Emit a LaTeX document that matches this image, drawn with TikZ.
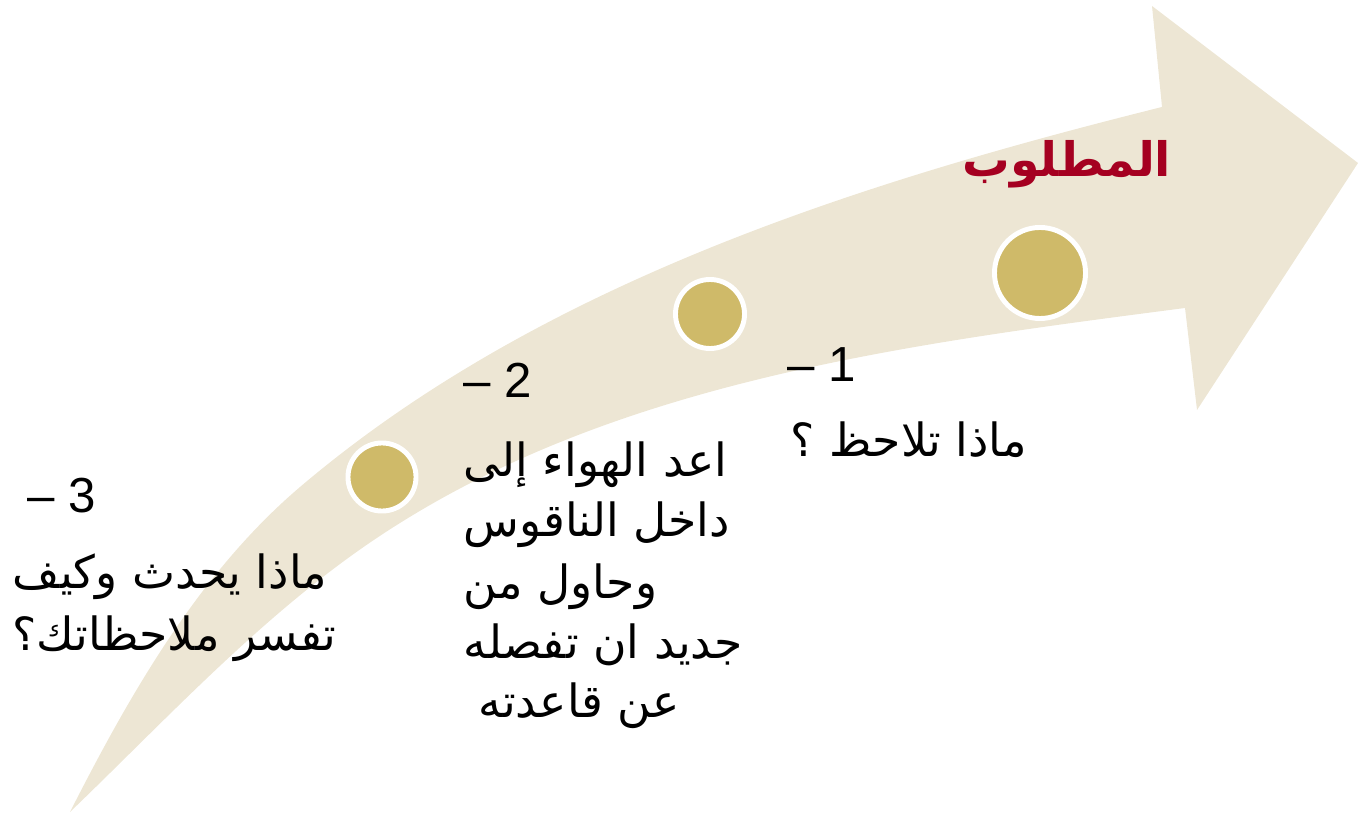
\documentclass[tikz,border=0pt]{standalone}
\usepackage{fontspec}
\setmainfont{Liberation Sans}
\newfontfamily\arabicfont[Script=Arabic]{DejaVu Sans}
\TeXXeTstate=1
\definecolor{bandbeige}{HTML}{EDE6D4}
\definecolor{dotgold}{HTML}{CFBA69}
\definecolor{titlered}{HTML}{A50021}
\begin{document}
\begin{tikzpicture}[x=0.01cm,y=-0.01cm,
  dot/.style={circle,fill=dotgold,draw=white,line width=1.4pt,inner sep=0pt},
  numtxt/.style={anchor=base west,inner sep=0pt,font=\fontsize{14}{17}\selectfont},
  artxt/.style={anchor=base west,inner sep=0pt,font=\arabicfont\fontsize{13}{17}\selectfont},
  titletxt/.style={anchor=base east,inner sep=0pt,text=titlered,font=\arabicfont\bfseries\fontsize{13.5}{17}\selectfont}]
\useasboundingbox (0,0) rectangle (1358,813);
% curved arrow band
\fill[bandbeige] (70,812)
  .. controls (130,694) and (199,573) .. (300,487)
  .. controls (539,284) and (857,183) .. (1162,107)
  -- (1152,6) -- (1358,163) -- (1197,410) -- (1185,308)
  .. controls (916,343) and (630,379) .. (400,523)
  .. controls (276,600) and (175,711) .. (70,812)
  -- cycle;
% dots
\node[dot,minimum size=0.68cm] (d3) at (382,477) {};
\node[dot,minimum size=0.69cm] (d2) at (710,314) {};
\node[dot,minimum size=0.91cm] (d1) at (1040,273) {};
% title
\node[titletxt] (title) at (1172,177) {\beginR المطلوب\endR};
% item 1
\node[numtxt] (n1) at (787,382) {– 1};
\node[artxt] (t1a) at (790,457) {\beginR ماذا تلاحظ ؟\endR};
% item 2
\node[numtxt] (n2) at (463,398) {– 2};
\node[artxt] (t2a) at (463,477) {\beginR اعد الهواء إلى\endR};
\node[artxt] (t2b) at (463,537) {\beginR داخل الناقوس\endR};
\node[artxt] (t2c) at (463,598) {\beginR وحاول من\endR};
\node[artxt] (t2d) at (463,658) {\beginR جديد ان تفصله\endR};
\node[artxt] (t2e) at (478,717) {\beginR عن قاعدته\endR};
% item 3
\node[numtxt] (n3) at (27,513) {– 3};
\node[artxt] (t3a) at (12,588) {\beginR ماذا يحدث وكيف\endR};
\node[artxt] (t3b) at (12,650) {\beginR تفسر ملاحظاتك؟\endR};
\end{tikzpicture}
\end{document}
